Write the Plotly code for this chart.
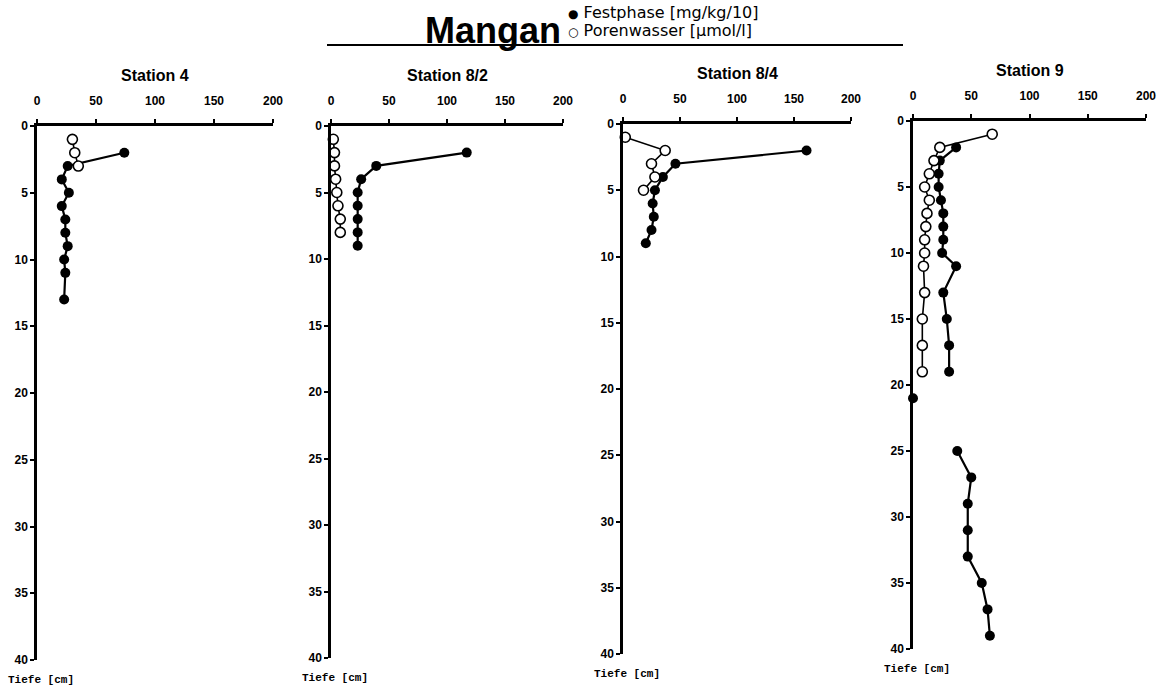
import plotly.graph_objects as go

# Depth profiles of manganese at four stations
stations = ["Station 4", "Station 8/2", "Station 8/4", "Station 9"]

# Festphase [mg/kg/10] (filled markers)
fest_depth_4 = [2, 3, 4, 5, 6, 7, 8, 9, 10, 11, 13]
fest_val_4 = [74, 26, 21, 27, 21, 24, 24, 26, 23, 24, 23]
fest_depth_82 = [2, 3, 4, 5, 6, 7, 8, 9]
fest_val_82 = [117, 39, 26, 23, 23, 23, 23, 23]
fest_depth_84 = [2, 3, 4, 5, 6, 7, 8, 9]
fest_val_84 = [161, 46, 35, 28, 26, 27, 25, 20]
fest_depth_9 = [2, 3, 4, 5, 6, 7, 8, 9, 10, 11, 13, 15, 17, 19, None,
                21, None, 25, 27, 29, 31, 33, 35, 37, 39]
fest_val_9 = [37, 23, 22, 22, 24, 26, 26, 26, 25, 37, 26, 29, 31, 31, None,
              0, None, 38, 50, 47, 47, 47, 59, 64, 66]

# Porenwasser [µmol/l] (open markers)
pore_depth_4 = [1, 2, 3]
pore_val_4 = [30, 32, 35]
pore_depth_82 = [1, 2, 3, 4, 5, 6, 7, 8]
pore_val_82 = [2, 3, 3, 4, 5, 6, 8, 8]
pore_depth_84 = [1, 2, 3, 4, 5]
pore_val_84 = [2, 37, 25, 28, 18]
pore_depth_9 = [1, 2, 3, 4, 5, 6, 7, 8, 9, 10, 11, 13, 15, 17, 19]
pore_val_9 = [68, 23, 18, 14, 10, 14, 12, 11, 10, 10, 9, 10, 8, 8, 8]

x_ticks = [0, 50, 100, 150, 200]
y_ticks = [0, 5, 10, 15, 20, 25, 30, 35, 40]

fest = [(fest_val_4, fest_depth_4), (fest_val_82, fest_depth_82),
        (fest_val_84, fest_depth_84), (fest_val_9, fest_depth_9)]
pore = [(pore_val_4, pore_depth_4), (pore_val_82, pore_depth_82),
        (pore_val_84, pore_depth_84), (pore_val_9, pore_depth_9)]

W, H = 1169, 686
# panel boxes in pixels: left, right, top, bottom
boxes = [(37, 273, 126, 660), (331, 563, 126, 658),
         (623, 851, 124, 654), (913, 1146, 121, 649)]

fig = go.Figure()
tick_font = dict(family="Liberation Sans", size=12, color="black")

for i in range(4):
    sfx = "" if i == 0 else str(i + 1)
    xa, ya = "x" + sfx, "y" + sfx
    fx, fy = fest[i]
    px_, py_ = pore[i]
    fig.add_trace(go.Scatter(
        x=fx, y=fy, xaxis=xa, yaxis=ya, mode="lines+markers",
        line=dict(color="black", width=2.2),
        marker=dict(symbol="circle", size=10, color="black"),
        cliponaxis=False, showlegend=False))
    fig.add_trace(go.Scatter(
        x=px_, y=py_, xaxis=xa, yaxis=ya, mode="lines+markers",
        line=dict(color="black", width=1.6),
        marker=dict(symbol="circle", size=10, color="white",
                    line=dict(color="black", width=1.6)),
        cliponaxis=False, showlegend=False))

    l, r, t, b = boxes[i]
    xdom = [l / W, r / W]
    ydom = [1 - b / H, 1 - t / H]
    fig.layout["xaxis" + sfx] = dict(
        domain=xdom, range=[0, 200], side="top", anchor=ya,
        tickvals=x_ticks, ticktext=["<b>%d</b>" % v for v in x_ticks],
        ticks="outside", ticklen=4, tickwidth=2, tickcolor="black",
        showline=True, linecolor="black", linewidth=2.5,
        showgrid=False, zeroline=False, tickfont=tick_font,
        ticklabelstandoff=9, automargin=False)
    fig.layout["yaxis" + sfx] = dict(
        domain=ydom, range=[40, 0], anchor=xa,
        tickvals=y_ticks, ticktext=["<b>%d</b>" % v for v in y_ticks],
        ticks="outside", ticklen=4, tickwidth=2, tickcolor="black",
        showline=True, linecolor="black", linewidth=2.5,
        showgrid=False, zeroline=False, tickfont=tick_font,
        automargin=False)

    # panel heading
    fig.add_annotation(
        text="<b>" + stations[i] + "</b>", xref="paper", yref="paper",
        x=(l + r) / 2 / W, y=1 - (t - 50) / H, xanchor="center",
        yanchor="middle", showarrow=False,
        font=dict(family="Liberation Sans", size=16, color="black"))
    # depth axis caption
    fig.add_annotation(
        text="<b>Tiefe [cm]</b>", xref="paper", yref="paper",
        x=(l - 31) / W, y=1 - (b + 20) / H, xanchor="left",
        yanchor="middle", showarrow=False,
        font=dict(family="Liberation Mono", size=11, color="black"))

# main title with its key
fig.add_annotation(
    text="<b>Mangan</b>", xref="paper", yref="paper", x=563 / W, y=1 - 30 / H,
    xanchor="right", yanchor="middle", showarrow=False,
    font=dict(family="Liberation Sans", size=36, color="black"))
fig.add_annotation(
    text="<span style='font-size:12px'>●</span> Festphase [mg/kg/10]",
    xref="paper", yref="paper",
    x=566 / W, y=1 - 13 / H, xanchor="left", yanchor="middle",
    showarrow=False, font=dict(family="DejaVu Sans", size=16, color="black"))
fig.add_annotation(
    text="<span style='font-size:12px'>○</span> Porenwasser [µmol/l]",
    xref="paper", yref="paper",
    x=566 / W, y=1 - 30 / H, xanchor="left", yanchor="middle",
    showarrow=False, font=dict(family="DejaVu Sans", size=16, color="black"))
fig.add_shape(type="line", xref="paper", yref="paper",
              x0=327 / W, x1=903 / W, y0=1 - 45 / H, y1=1 - 45 / H,
              line=dict(color="black", width=1.8))

fig.update_layout(
    width=W, height=H,
    margin=dict(l=0, r=0, t=0, b=0, pad=0, autoexpand=False),
    paper_bgcolor="white", plot_bgcolor="white",
    font=dict(family="Liberation Sans", color="black"))

fig.write_html("out.html")
